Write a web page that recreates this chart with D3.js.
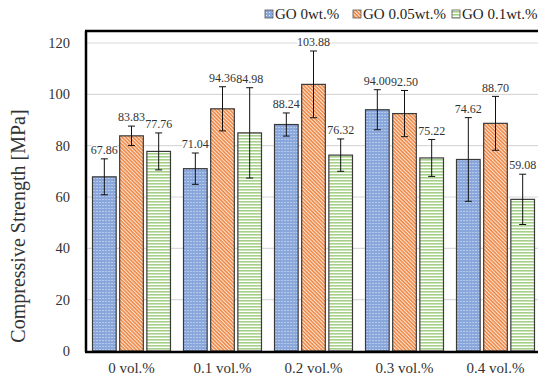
<!DOCTYPE html>
<html><head><meta charset="utf-8">
<script src="https://cdn.jsdelivr.net/npm/d3@7"></script>
<style>body{margin:0;background:#fff}svg{display:block}</style>
</head><body>
<svg id="c" width="538" height="378"></svg>
<script>
const categories = ["0 vol.%", "0.1 vol.%", "0.2 vol.%", "0.3 vol.%", "0.4 vol.%"];
const seriesNames = ["GO 0wt.%", "GO 0.05wt.%", "GO 0.1wt.%"];
const go0 = [67.86, 71.04, 88.24, 94.00, 74.62];
const go005 = [83.83, 94.36, 103.88, 92.50, 88.70];
const go01 = [77.76, 84.98, 76.32, 75.22, 59.08];
const err0 = [7.0, 6.1, 4.5, 7.8, 16.3];
const err005 = [3.8, 8.6, 13.0, 9.0, 10.5];
const err01 = [7.2, 17.6, 6.3, 7.2, 9.8];
const yTicks = [0, 20, 40, 60, 80, 100, 120];

const values = [go0, go005, go01];
const errors = [err0, err005, err01];

const svg = d3.select("#c");
const m = {l: 86, r: 541, t: 31, b: 351};
const y = d3.scaleLinear().domain([0, 120]).range([m.b, 43]);
const x0 = d3.scaleBand().domain(categories).range([m.l, m.r]).paddingInner(0.143).paddingOuter(0.0715);
const x1 = d3.scaleBand().domain(seriesNames).range([0, x0.bandwidth()]).paddingInner(0.13);

// patterns
const defs = svg.append("defs");
const pb = defs.append("pattern").attr("id", "p0").attr("patternUnits", "userSpaceOnUse").attr("width", 3).attr("height", 3);
pb.append("rect").attr("width", 3).attr("height", 3).attr("fill", "#8aa7dc");
pb.append("rect").attr("x", 1).attr("y", 1).attr("width", 1).attr("height", 1).attr("fill", "#e3eaf8");
const po = defs.append("pattern").attr("id", "p1").attr("patternUnits", "userSpaceOnUse").attr("width", 2.6).attr("height", 2.6).attr("patternTransform", "rotate(45)");
po.append("rect").attr("width", 2.6).attr("height", 2.6).attr("fill", "#fde6d6");
po.append("rect").attr("width", 2.6).attr("height", 1.5).attr("fill", "#ee8440");
const pg = defs.append("pattern").attr("id", "p2").attr("patternUnits", "userSpaceOnUse").attr("width", 3).attr("height", 3);
pg.append("rect").attr("width", 3).attr("height", 3).attr("fill", "#ffffff");
pg.append("rect").attr("width", 3).attr("height", 1.6).attr("fill", "#a6cf8a");

const serif = '"Liberation Serif"';

// gridlines
svg.append("g").selectAll("line").data(yTicks.filter(d => d > 0)).join("line")
  .attr("x1", m.l).attr("x2", 538).attr("y1", d => y(d)).attr("y2", d => y(d))
  .attr("stroke", "#d9d9d9").attr("stroke-width", 1.2);

// y axis labels
const yAxis = d3.axisLeft(y).tickValues(yTicks).tickSize(0).tickPadding(16);
const ya = svg.append("g").attr("transform", `translate(${m.l},0)`).call(yAxis);
ya.select(".domain").remove();
ya.selectAll("text").style("font-family", serif).style("font-size", "14.5px").attr("fill", "#333");

// bars
const groups = svg.append("g").selectAll("g").data(categories).join("g")
  .attr("transform", d => `translate(${x0(d)},0)`);
const cellData = (c, i) => seriesNames.map((s, k) => ({s, k, v: values[k][i], e: errors[k][i]}));
const cells = groups.selectAll("g.b").data(cellData).join("g").attr("class", "b");
cells.append("rect")
  .attr("x", d => x1(d.s)).attr("width", x1.bandwidth())
  .attr("y", d => y(d.v)).attr("height", d => y(0) - y(d.v))
  .attr("fill", d => `url(#p${d.k})`).attr("stroke", "#3a3a3a").attr("stroke-width", 1.2);
// error bars
const cx = d => x1(d.s) + x1.bandwidth() / 2;
cells.append("line").attr("x1", cx).attr("x2", cx).attr("y1", d => y(d.v + d.e)).attr("y2", d => y(d.v - d.e))
  .attr("stroke", "#111").attr("stroke-width", 1);
cells.append("line").attr("x1", d => cx(d) - 3.5).attr("x2", d => cx(d) + 3.5).attr("y1", d => y(d.v + d.e)).attr("y2", d => y(d.v + d.e))
  .attr("stroke", "#111").attr("stroke-width", 1);
cells.append("line").attr("x1", d => cx(d) - 3.5).attr("x2", d => cx(d) + 3.5).attr("y1", d => y(d.v - d.e)).attr("y2", d => y(d.v - d.e))
  .attr("stroke", "#111").attr("stroke-width", 1);

// labels with white background, on top layer
const lgroups = svg.append("g").selectAll("g").data(categories).join("g")
  .attr("transform", d => `translate(${x0(d)},0)`);
const lab = lgroups.selectAll("g.l").data(cellData).join("g").attr("class", "l")
  .attr("transform", d => `translate(${cx(d)},${y(d.v + d.e) - 9})`);
lab.append("rect").attr("x", d => d.v >= 100 ? -16 : -13).attr("y", -6).attr("width", d => d.v >= 100 ? 32 : 26).attr("height", 12).attr("fill", "#fff");
lab.append("text").attr("text-anchor", "middle").attr("dy", "0.35em")
  .style("font-family", serif).style("font-size", "12px").attr("fill", "#333")
  .text(d => d.v.toFixed(2));

// frame
svg.append("line").attr("x1", m.l).attr("x2", m.l).attr("y1", m.t).attr("y2", m.b + 1).attr("stroke", "#000").attr("stroke-width", 2.5);
svg.append("line").attr("x1", m.l - 1).attr("x2", 538).attr("y1", m.t).attr("y2", m.t).attr("stroke", "#000").attr("stroke-width", 2.5);
svg.append("line").attr("x1", m.l - 1).attr("x2", 538).attr("y1", m.b + 1).attr("y2", m.b + 1).attr("stroke", "#000").attr("stroke-width", 2.5);

// x axis labels
const xAxis = d3.axisBottom(x0).tickSize(0).tickPadding(10);
const xa = svg.append("g").attr("transform", `translate(0,${m.b + 1})`).call(xAxis);
xa.select(".domain").remove();
xa.selectAll("text").style("font-family", serif).style("font-size", "15px").attr("fill", "#333");

// y title
svg.append("text").attr("transform", "translate(25,226) rotate(-90)").attr("text-anchor", "middle")
  .style("font-family", serif).style("font-size", "20px").attr("fill", "#333")
  .text("Compressive Strength [MPa]");

// legend
const legX = [265, 353, 452];
const leg = svg.append("g").selectAll("g").data(seriesNames).join("g")
  .attr("transform", (d, i) => `translate(${legX[i]},14)`);
leg.append("rect").attr("x", 0).attr("y", -4).attr("width", 8).attr("height", 8)
  .attr("fill", (d, i) => `url(#p${i})`).attr("stroke", "#555").attr("stroke-width", 0.8);
leg.append("text").attr("x", 10).attr("dy", "0.35em")
  .style("font-family", serif).style("font-size", "15px").attr("fill", "#222")
  .text(d => d);
</script>
</body></html>
